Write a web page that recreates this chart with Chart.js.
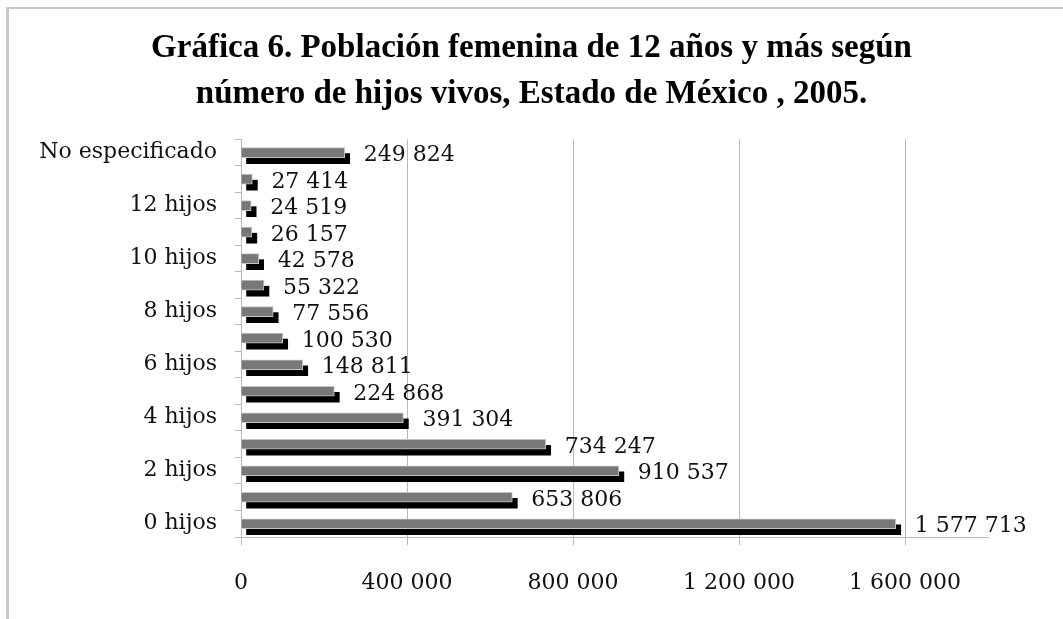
<!DOCTYPE html>
<html>
<head>
<meta charset="utf-8">
<script src="https://cdn.jsdelivr.net/npm/chart.js@4"></script>
<style>
  html, body { margin: 0; padding: 0; background: #ffffff; }
  #wrap { position: relative; width: 1063px; height: 619px; overflow: hidden; }
  #frame { position: absolute; left: 6px; top: 7px; width: 1070px; height: 640px;
           border-top: 2px solid #c8c8c8; border-left: 3px solid #c8c8c8; }
  canvas { position: absolute; left: 0; top: 0; }
</style>
</head>
<body>
<div id="wrap">
  <div id="frame"></div>
  <canvas id="c" width="1063" height="619"></canvas>
</div>
<script>
const categorias = ['0 hijos', '1 hijo', '2 hijos', '3 hijos', '4 hijos', '5 hijos', '6 hijos',
  '7 hijos', '8 hijos', '9 hijos', '10 hijos', '11 hijos', '12 hijos', '13 hijos y más', 'No especificado'];
const poblacion = [1577713, 653806, 910537, 734247, 391304, 224868, 148811,
  100530, 77556, 55322, 42578, 26157, 24519, 27414, 249824];
const ticksX = [0, 400000, 800000, 1200000, 1600000];
const titulo = ['Gráfica 6. Población femenina de 12 años y más según',
  'número de hijos vivos, Estado de México , 2005.'];

const fmt = v => String(Math.round(v)).replace(/\B(?=(\d{3})+(?!\d))/g, ' ');
const FONT = 'DejaVu Serif';
const TITLE_FONT = 'Liberation Serif';

const shadowPlugin = {
  id: 'shadowShift',
  beforeDatasetDraw(chart, args) {
    if (args.index === 1) { chart.ctx.save(); chart.ctx.translate(5, 6); }
  },
  afterDatasetDraw(chart, args) {
    if (args.index === 1) chart.ctx.restore();
  }
};

const labelPlugin = {
  id: 'valueLabels',
  afterDatasetsDraw(chart) {
    const meta = chart.getDatasetMeta(0);
    const ctx = chart.ctx;
    ctx.save();
    ctx.font = '22px "' + FONT + '"';
    ctx.fillStyle = '#111';
    ctx.textBaseline = 'middle';
    ctx.textAlign = 'left';
    meta.data.forEach((el, i) => {
      ctx.fillText(fmt(chart.data.datasets[0].data[i]), el.x + 19, el.y + 3);
    });
    ctx.restore();
  }
};

new Chart(document.getElementById('c'), {
  type: 'bar',
  data: {
    labels: categorias,
    datasets: [
      { data: poblacion, backgroundColor: '#787878', borderColor: '#c4c4c4', borderWidth: 1,
        barThickness: 10, grouped: false, clip: false },
      { data: poblacion, backgroundColor: '#000000', borderWidth: 0,
        barThickness: 10, grouped: false, clip: false }
    ]
  },
  options: {
    indexAxis: 'y',
    responsive: false,
    animation: false,
    devicePixelRatio: 1,
    layout: { padding: 0 },
    plugins: {
      legend: { display: false },
      tooltip: { enabled: false },
      title: {
        display: true,
        text: titulo,
        color: '#000',
        font: { family: TITLE_FONT, size: 33, weight: 'bold', lineHeight: 1.4 },
        padding: { top: 25, bottom: 22 }
      }
    },
    scales: {
      x: {
        min: 0, max: 1800000,
        afterBuildTicks: s => { s.ticks = ticksX.map(v => ({ value: v })); },
        afterFit: s => { s.height = 82; },
        grid: { color: '#b8b8b8', tickLength: 8, lineWidth: 1 },
        border: { color: '#b8b8b8' },
        ticks: { stepSize: 400000, color: '#111', padding: 25,
                 font: { family: FONT, size: 22 }, callback: v => fmt(v) }
      },
      y: {
        reverse: true,
        afterFit: s => { s.width = 241; },
        grid: { drawOnChartArea: false, tickLength: 6, color: '#b8b8b8', offset: true },
        border: { color: '#b8b8b8' },
        ticks: { color: '#111', padding: 18, autoSkip: false,
                 font: { family: FONT, size: 22 },
                 callback: function (v, i) { return i % 2 === 0 ? this.getLabelForValue(v) : ''; } }
      },
      yRight: {
        type: 'category',
        axis: 'y',
        position: 'right',
        afterFit: s => { s.width = 75; },
        grid: { display: false },
        border: { display: false },
        ticks: { display: false }
      }
    }
  },
  plugins: [shadowPlugin, labelPlugin]
});
</script>
</body>
</html>
